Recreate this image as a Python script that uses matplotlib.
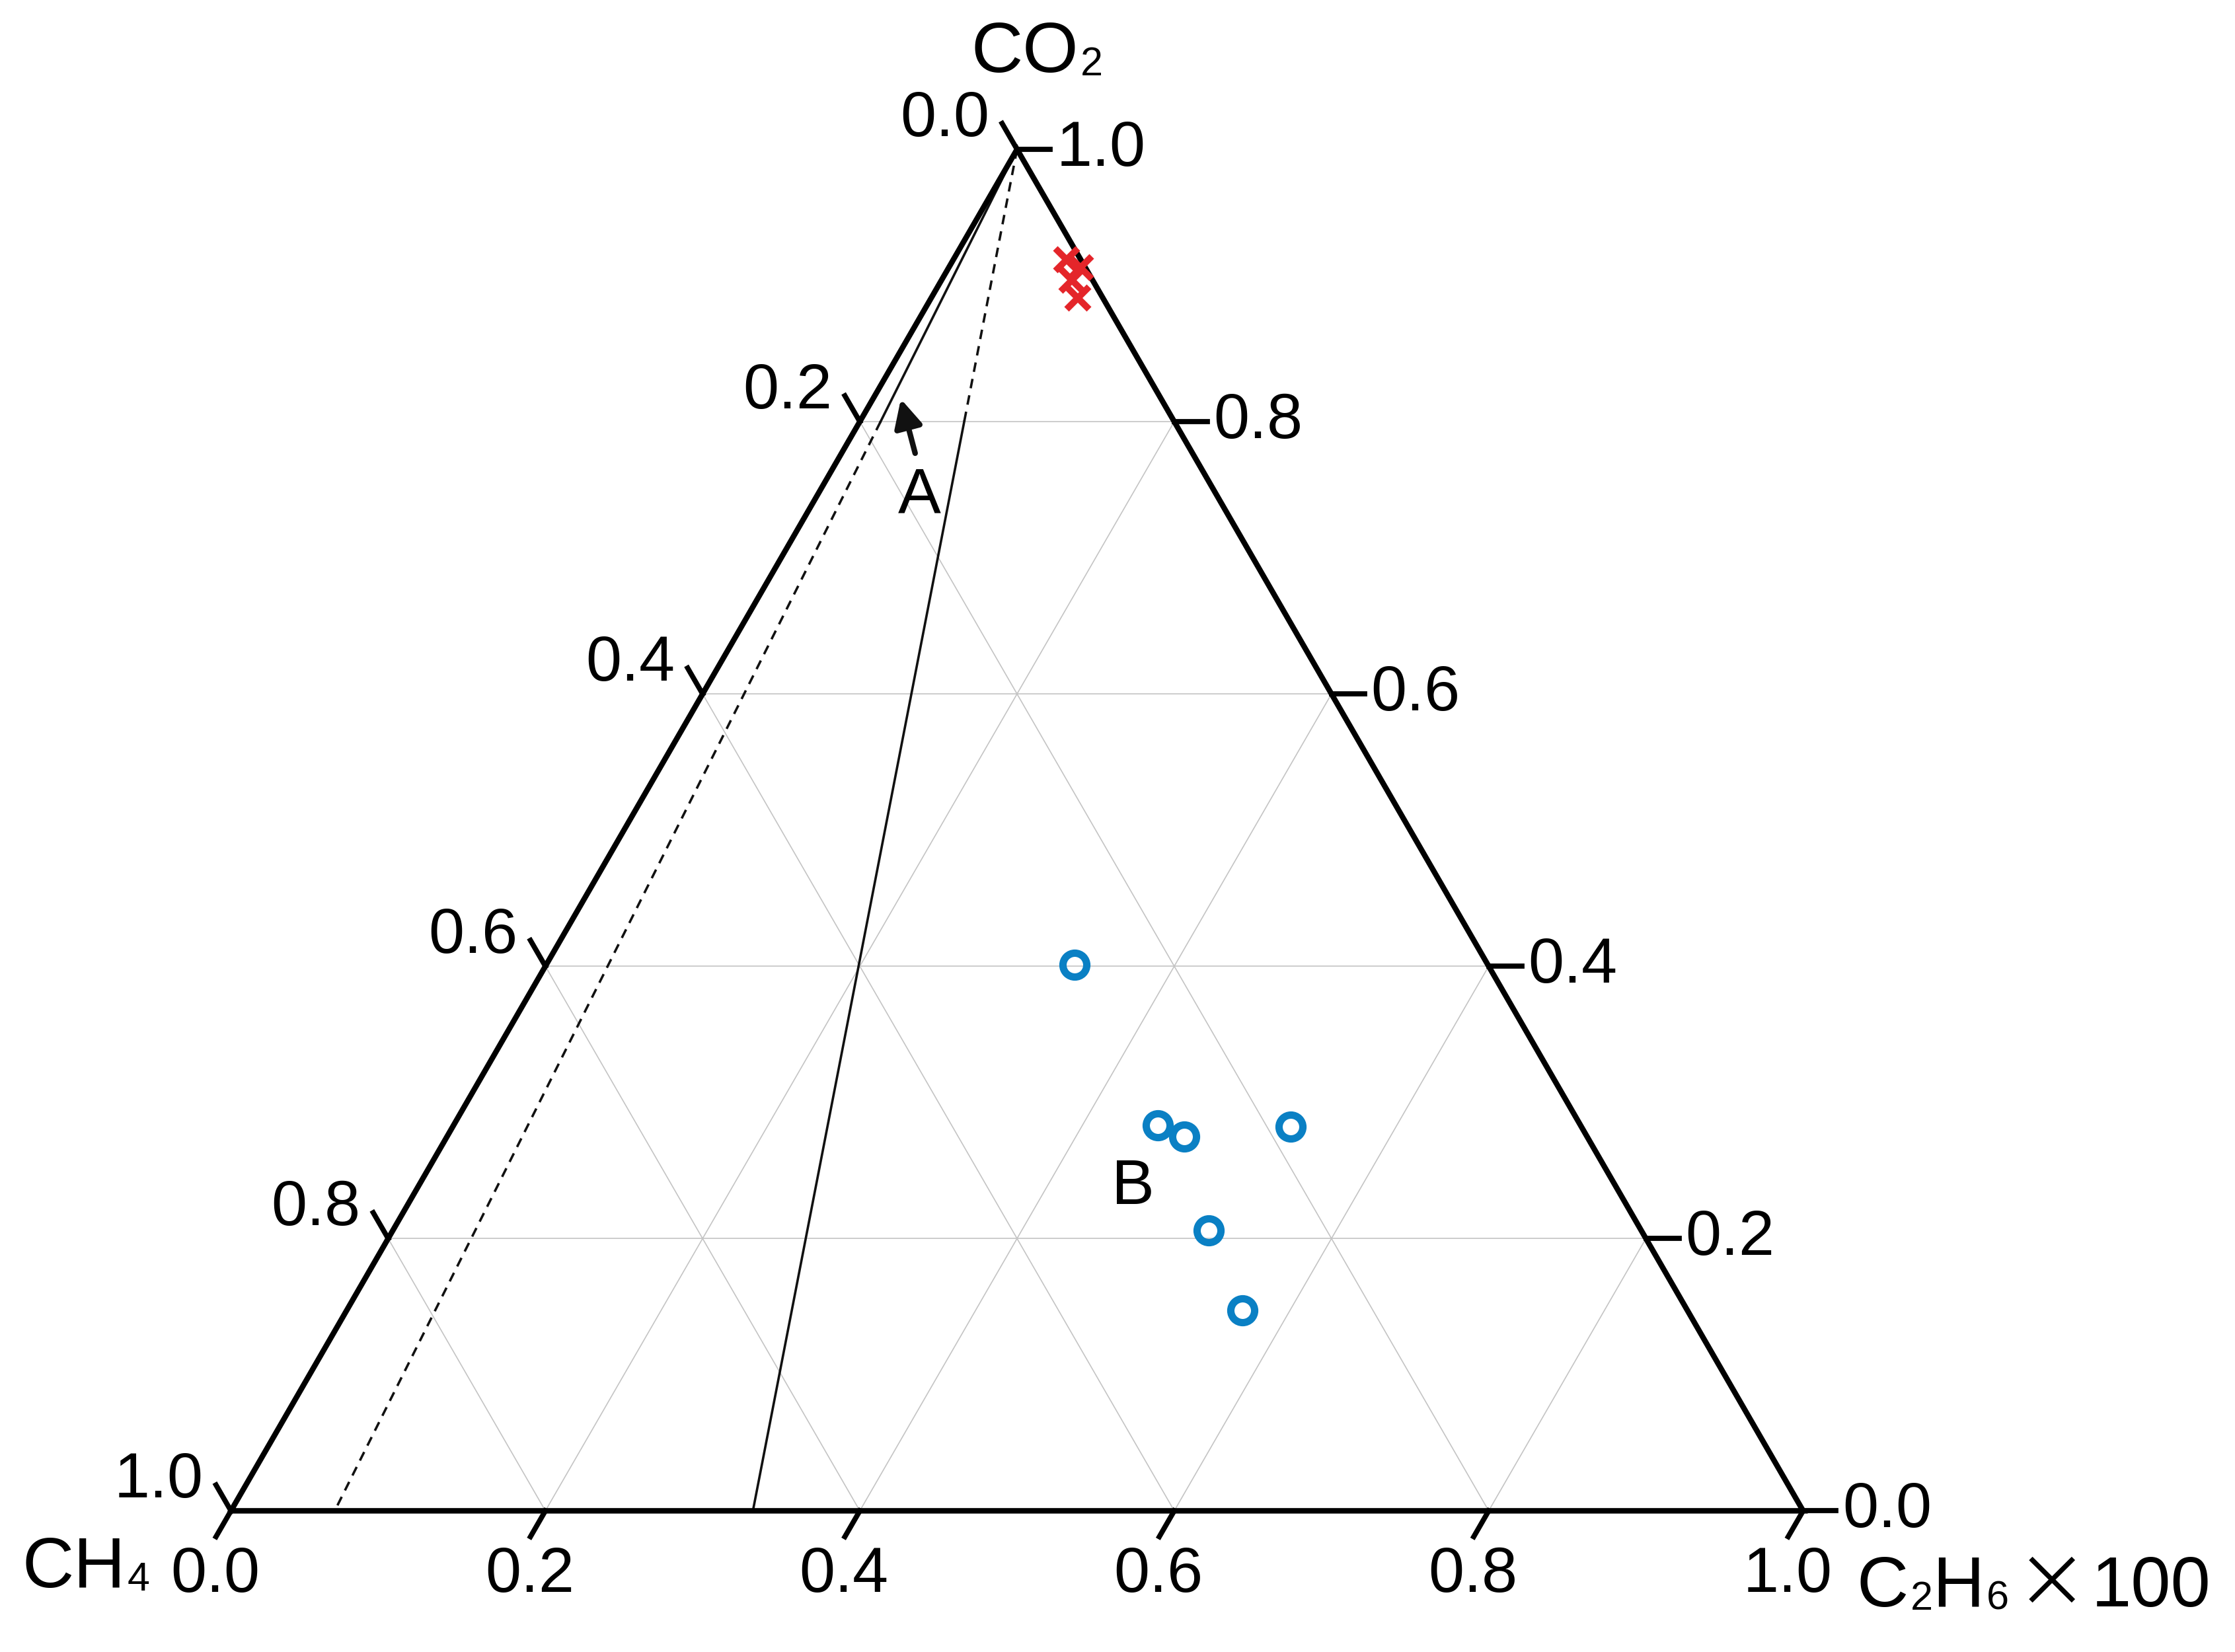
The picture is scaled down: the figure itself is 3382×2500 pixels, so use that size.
import numpy as np
import matplotlib.pyplot as plt

plt.rcParams['font.family'] = ['Liberation Sans', 'DejaVu Sans']

# ternary data: C2H6(x100) fraction and CO2 fraction, CH4 = 1 - both
c2h6_A = [0.072, 0.084, 0.083, 0.093]
co2_A = [0.919, 0.913, 0.904, 0.891]

c2h6_B = [0.336, 0.448, 0.469, 0.533, 0.519, 0.570]
co2_B = [0.401, 0.283, 0.275, 0.282, 0.206, 0.147]

# boundary lines: from CO2 apex to the base at these C2H6 values
bound_base = [0.066, 0.332]
bound_break = 0.8  # CO2 value where line style switches

tick_vals = [0.0, 0.2, 0.4, 0.6, 0.8, 1.0]
tick_labels = ['0.0', '0.2', '0.4', '0.6', '0.8', '1.0']

S3 = np.sqrt(3) / 2


def tern(c2h6, co2):
    c2h6 = np.asarray(c2h6, dtype=float)
    co2 = np.asarray(co2, dtype=float)
    return c2h6 + co2 / 2, co2 * S3


fig = plt.figure(figsize=(16.91, 12.5), dpi=200)
ax = fig.add_axes([0, 0, 1, 1])
ax.set_xlim(-0.1469, 1.2747)
ax.set_ylim(-0.0898, 0.961)
ax.axis('off')

grid_kw = dict(color='#c4c4c4', lw=0.6, zorder=1)
for g in [0.2, 0.4, 0.6, 0.8]:
    # constant CO2 (horizontal)
    x, y = tern([0, 1 - g], [g, g])
    ax.plot(x, y, **grid_kw)
    # constant C2H6 (parallel to left edge)
    x, y = tern([g, g], [0, 1 - g])
    ax.plot(x, y, **grid_kw)
    # constant CH4 (parallel to right edge)
    x, y = tern([1 - g, 0], [0, 1 - g])
    ax.plot(x, y, **grid_kw)

# boundary lines between A and B
dash = (0, (4, 3))
for i, b in enumerate(bound_base):
    t = b * (1 - bound_break)
    xu, yu = tern([0, t], [1, bound_break])
    xl, yl = tern([t, b], [bound_break, 0])
    up_ls, low_ls = ('-', dash) if i == 0 else (dash, '-')
    ax.plot(xu, yu, color='#111111', lw=1.3, ls=up_ls, zorder=2)
    ax.plot(xl, yl, color='#111111', lw=1.3, ls=low_ls, zorder=2)

# triangle outline
x, y = tern([0, 1, 0, 0], [0, 0, 1, 0])
ax.plot(x, y, color='black', lw=3.0, solid_joinstyle='miter', zorder=3)

tl = 0.019
fs = 35
for v, lab in zip(tick_vals, tick_labels):
    # bottom axis: C2H6
    x0, y0 = tern(v, 0)
    ax.plot([x0, x0 - 0.5 * tl], [y0, y0 - S3 * tl], color='black', lw=2.8, zorder=3)
    ax.text(x0 - 0.010, y0 - 0.041, lab, fontsize=fs, ha='center', va='center')
    # left axis: CH4
    x0, y0 = tern(0, 1 - v)
    ax.plot([x0, x0 - 0.5 * tl], [y0, y0 + S3 * tl], color='black', lw=2.8, zorder=3)
    ax.text(x0 - 0.046, y0 + 0.019, lab, fontsize=fs, ha='center', va='center')
    # right axis: CO2
    x0, y0 = tern(1 - v, v)
    ax.plot([x0, x0 + 0.021], [y0, y0], color='black', lw=2.8, zorder=3)
    ax.text(x0 + 0.025, y0, lab, fontsize=fs, ha='left', va='center')

# data
x, y = tern(c2h6_A, co2_A)
ax.plot(x, y, ls='none', marker='x', ms=12, mew=3.6, color='#e4252a', zorder=5)
x, y = tern(c2h6_B, co2_B)
ax.plot(x, y, ls='none', marker='o', ms=13, mew=4.0, mfc='none', mec='#0a80c4', zorder=5)

# labels A and B
ax.annotate('', xy=(0.4261, 0.7072), xytext=(0.4352, 0.6727),
            arrowprops=dict(arrowstyle='-|>', color='#111111', lw=3.0, mutation_scale=32,
                            shrinkA=0, shrinkB=0), zorder=6)
ax.text(0.4379, 0.6455, 'A', fontsize=fs, ha='center', va='center')
ax.text(0.5739, 0.2058, 'B', fontsize=fs, ha='center', va='center')


def chem_label(x, y, parts, size=39):
    # parts: (text, font size or None, gap in points, vertical shift, family or None)
    first = ax.text(x, y, parts[0][0], fontsize=size, ha='left', va='bottom')
    prev = first
    for txt, psize, gap, dy, fam in parts[1:]:
        kw = {'family': fam} if fam else {}
        prev = ax.annotate(txt, xy=(1, 0), xycoords=(prev, first),
                           xytext=(gap, dy), textcoords='offset points',
                           fontsize=psize or size, ha='left', va='bottom', **kw)
    return first


chem_label(0.471, 0.906, [('CO',), ('2', 22, 1, 1.5, None)])
chem_label(-0.133, -0.058, [('CH',), ('4', 22, 1, 1.5, None)])
chem_label(1.034, -0.070, [('C',), ('2', 22, 1, 1.5, None), ('H', None, 0, 0, None),
                           ('6', 22, 1, 1.5, None),
                           ('\u00d7', 39, 4, -1, ['Noto Sans CJK SC', 'DejaVu Sans']),
                           ('100', None, 2, 0, None)])

fig.savefig('out.png', dpi=200, facecolor='white')
